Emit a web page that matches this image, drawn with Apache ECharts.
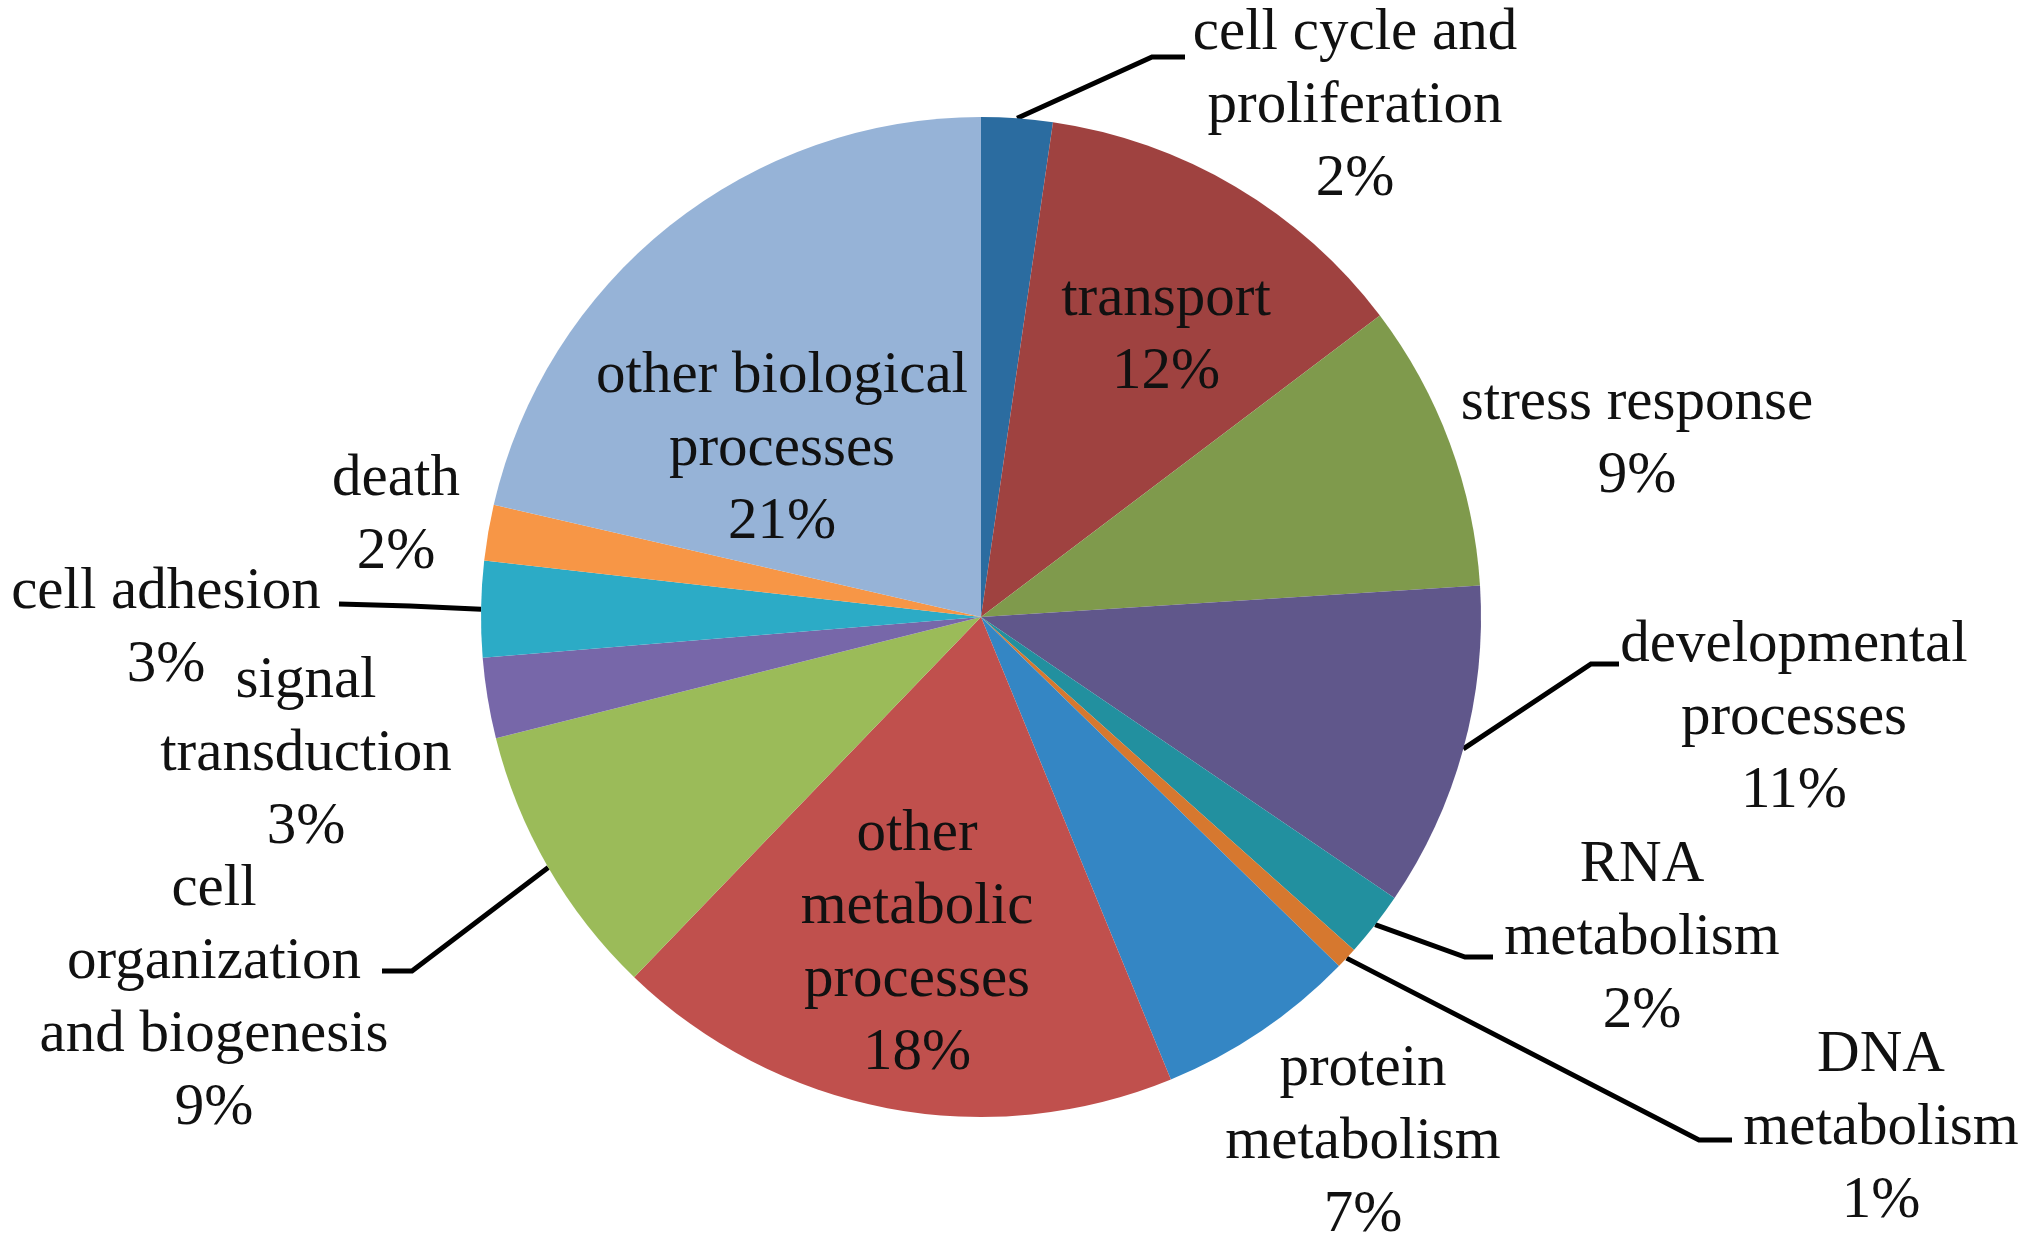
<!DOCTYPE html>
<html>
<head>
<meta charset="utf-8">
<script src="https://cdn.jsdelivr.net/npm/echarts@6/dist/echarts.min.js"></script>
<style>
html,body{margin:0;padding:0;background:#fff;}
#chart{width:2031px;height:1246px;}
</style>
</head>
<body>
<div id="chart"></div>
<script>
// ---- data ----
const categories = [
  'cell cycle and\nproliferation',
  'transport',
  'stress response',
  'developmental\nprocesses',
  'RNA\nmetabolism',
  'DNA\nmetabolism',
  'protein\nmetabolism',
  'other\nmetabolic\nprocesses',
  'cell\norganization\nand biogenesis',
  'signal\ntransduction',
  'cell adhesion',
  'death',
  'other biological\nprocesses'
];
const values = [2.3, 12.4, 9.3, 10.5, 2.1, 0.7, 6.5, 18.4, 8.9, 2.6, 3.1, 1.8, 21.4];
const colors = ['#2B6CA0', '#9F4240', '#7F9A4C', '#60578B', '#22909F', '#D6782F', '#3486C4',
                '#C0504D', '#9BBB59', '#7767A9', '#2CABC6', '#F79646', '#96B3D7'];

// ---- label placement (styling, not data) ----
const labelPos = [
  [1355, 106], [1166, 336], [1637, 440], [1794, 718], [1642, 938], [1881, 1128], [1363, 1142],
  [917, 944], [214, 999], [306, 754], [166, 629], [396, 516], [782, 449]
];
const leaderPts = {
  0: [[1152, 57], [1185, 57]],
  3: [[1591, 664], [1619, 664]],
  4: [[1465, 957], [1493, 957]],
  5: [[1699, 1140], [1732, 1140]],
  8: [[412, 971], [382, 971]],
  10: [[410, 606], [339, 604]]
};

const chart = echarts.init(document.getElementById('chart'));
const data = categories.map((c, i) => ({
  name: c,
  value: values[i],
  itemStyle: { color: colors[i] },
  labelLine: { show: !!leaderPts[i] }
}));

chart.setOption({
  animation: false,
  backgroundColor: '#ffffff',
  series: [{
    type: 'pie',
    center: [981, 617],
    radius: 500,
    startAngle: 90,
    clockwise: true,
    avoidLabelOverlap: false,
    emphasis: { disabled: true },
    itemStyle: { borderWidth: 0 },
    label: {
      show: true,
      position: 'outside',
      fontFamily: 'Liberation Serif',
      fontSize: 59,
      lineHeight: 73,
      color: '#111',
      align: 'center',
      formatter: p => p.name + '\n' + Math.round(p.value) + '%'
    },
    labelLine: {
      show: true,
      lineStyle: { color: '#000', width: 5 }
    },
    labelLayout: function (p) {
      const i = p.dataIndex;
      const out = { x: labelPos[i][0], y: labelPos[i][1], align: 'center', verticalAlign: 'middle' };
      if (leaderPts[i] && p.labelLinePoints) {
        out.labelLinePoints = [p.labelLinePoints[0]].concat(leaderPts[i]);
      }
      return out;
    },
    data: data
  }]
});
</script>
</body>
</html>
